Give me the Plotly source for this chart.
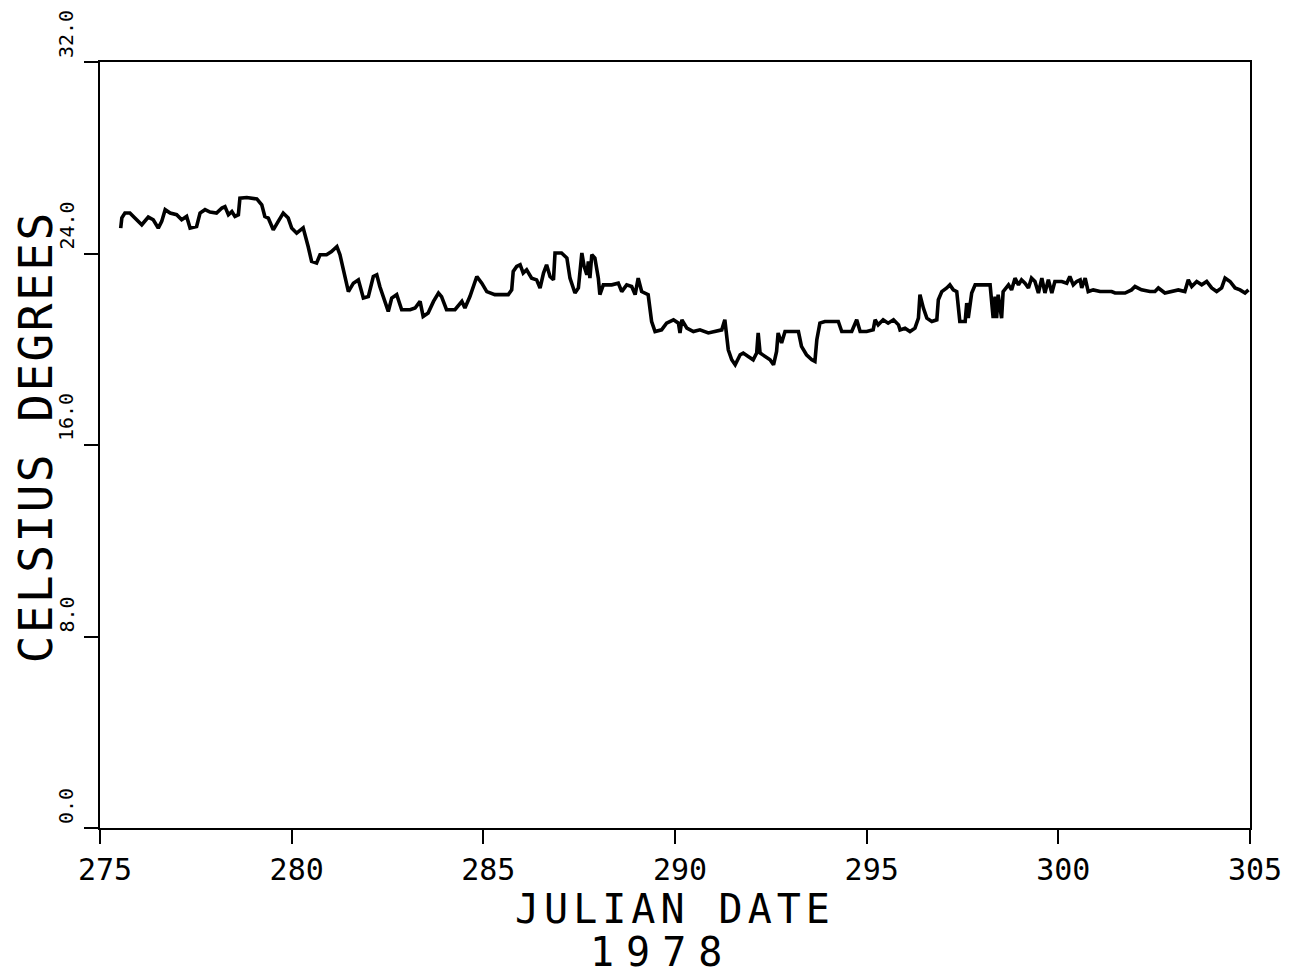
import plotly.graph_objects as go

# Julian day (1978) and water temperature
dia = [
    275.54, 275.57, 275.65, 275.78, 275.91, 276.09, 276.26, 276.39, 276.52, 276.61,
    276.70, 276.83, 277.00, 277.13, 277.26, 277.35, 277.52, 277.61, 277.74, 277.87,
    278.04, 278.18, 278.26, 278.35, 278.44, 278.52, 278.61, 278.65, 278.83, 279.09,
    279.22, 279.30, 279.39, 279.52, 279.65, 279.78, 279.91, 280.00, 280.13, 280.30,
    280.43, 280.52, 280.65, 280.74, 280.91, 281.04, 281.18, 281.26, 281.35, 281.48,
    281.61, 281.74, 281.87, 282.00, 282.13, 282.22, 282.30, 282.44, 282.52, 282.61,
    282.74, 282.87, 283.09, 283.22, 283.35, 283.43, 283.56, 283.70, 283.83, 283.91,
    284.04, 284.26, 284.44, 284.52, 284.65, 284.83, 284.96, 285.09, 285.30, 285.65,
    285.74, 285.78, 285.87, 285.96, 286.04, 286.13, 286.26, 286.39, 286.48, 286.57,
    286.65, 286.74, 286.83, 286.87, 287.04, 287.18, 287.26, 287.39, 287.48, 287.57,
    287.63, 287.70, 287.74, 287.78, 287.83, 287.91, 288.00, 288.04, 288.13, 288.35,
    288.52, 288.61, 288.74, 288.87, 288.96, 289.04, 289.13, 289.30, 289.39, 289.48,
    289.65, 289.78, 289.96, 290.09, 290.13, 290.18, 290.31, 290.48, 290.65, 290.87,
    291.09, 291.22, 291.30, 291.39, 291.48, 291.57, 291.70, 291.78, 291.91, 292.04,
    292.13, 292.17, 292.22, 292.35, 292.48, 292.57, 292.65, 292.69, 292.78, 292.87,
    293.22, 293.30, 293.43, 293.57, 293.65, 293.70, 293.78, 293.91, 294.26, 294.35,
    294.61, 294.74, 294.83, 295.00, 295.17, 295.22, 295.30, 295.43, 295.56, 295.70,
    295.83, 295.87, 296.00, 296.13, 296.26, 296.35, 296.39, 296.48, 296.57, 296.70,
    296.83, 296.87, 296.96, 297.09, 297.17, 297.26, 297.35, 297.43, 297.57, 297.61,
    297.65, 297.74, 297.83, 298.22, 298.26, 298.30, 298.35, 298.39, 298.43, 298.52,
    298.56, 298.70, 298.78, 298.87, 298.96, 299.04, 299.13, 299.22, 299.30, 299.39,
    299.48, 299.57, 299.65, 299.74, 299.83, 299.91, 300.09, 300.22, 300.30, 300.39,
    300.48, 300.57, 300.61, 300.70, 300.78, 300.91, 301.09, 301.39, 301.48, 301.74,
    301.91, 302.00, 302.17, 302.39, 302.52, 302.61, 302.78, 302.96, 303.13, 303.30,
    303.39, 303.48, 303.61, 303.74, 303.87, 304.00, 304.13, 304.26, 304.35, 304.48,
    304.61, 304.74, 304.87, 304.96,
]
temperatura = [
    25.06, 25.49, 25.69, 25.69, 25.48, 25.20, 25.52, 25.41, 25.06, 25.34,
    25.83, 25.69, 25.62, 25.41, 25.55, 25.06, 25.13, 25.69, 25.83, 25.73,
    25.69, 25.90, 25.96, 25.62, 25.75, 25.55, 25.62, 26.31, 26.34, 26.28,
    26.03, 25.55, 25.48, 24.99, 25.34, 25.69, 25.48, 25.06, 24.85, 25.07,
    24.29, 23.67, 23.60, 23.95, 23.95, 24.08, 24.29, 23.95, 23.32, 22.41,
    22.76, 22.90, 22.14, 22.20, 23.04, 23.11, 22.62, 22.00, 21.58, 22.14,
    22.28, 21.65, 21.65, 21.72, 22.00, 21.37, 21.51, 22.00, 22.35, 22.20,
    21.65, 21.65, 22.00, 21.72, 22.20, 23.04, 22.76, 22.41, 22.28, 22.28,
    22.48, 23.25, 23.46, 23.53, 23.18, 23.32, 22.97, 22.90, 22.56, 23.18,
    23.53, 23.04, 22.90, 24.02, 24.02, 23.81, 22.97, 22.35, 22.56, 24.02,
    23.46, 23.11, 23.67, 22.97, 23.95, 23.81, 22.97, 22.28, 22.69, 22.69,
    22.76, 22.41, 22.69, 22.62, 22.28, 22.97, 22.41, 22.28, 21.16, 20.74,
    20.81, 21.09, 21.23, 21.09, 20.68, 21.23, 20.88, 20.74, 20.81, 20.68,
    20.74, 20.81, 21.23, 19.98, 19.56, 19.35, 19.77, 19.84, 19.70, 19.56,
    19.84, 20.68, 19.84, 19.70, 19.56, 19.35, 19.91, 20.68, 20.26, 20.74,
    20.74, 20.12, 19.77, 19.56, 19.49, 20.40, 21.09, 21.16, 21.16, 20.74,
    20.74, 21.23, 20.74, 20.74, 20.81, 21.23, 21.02, 21.23, 21.09, 21.23,
    21.02, 20.81, 20.88, 20.74, 20.88, 21.30, 22.28, 21.72, 21.30, 21.16,
    21.23, 22.07, 22.41, 22.56, 22.69, 22.48, 22.41, 21.16, 21.16, 21.93,
    21.30, 22.35, 22.69, 22.69, 22.07, 21.30, 22.20, 21.30, 22.28, 21.30,
    22.41, 22.69, 22.48, 22.97, 22.69, 22.90, 22.76, 22.56, 22.97, 22.83,
    22.35, 22.97, 22.35, 22.90, 22.35, 22.83, 22.83, 22.76, 23.04, 22.69,
    22.83, 22.90, 22.56, 22.97, 22.41, 22.48, 22.41, 22.41, 22.35, 22.35,
    22.48, 22.62, 22.48, 22.41, 22.41, 22.56, 22.35, 22.41, 22.48, 22.41,
    22.90, 22.62, 22.83, 22.69, 22.83, 22.56, 22.41, 22.56, 22.97, 22.83,
    22.56, 22.48, 22.35, 22.48,
]

ticks_x = [275, 280, 285, 290, 295, 300, 305]
ticks_y = [0, 8, 16, 24, 32]
etiquetas_y = ["0.0", "8.0", "16.0", "24.0", "32.0"]

fuente = "DejaVu Sans Mono"

fig = go.Figure()

fig.add_trace(go.Scatter(
    x=dia,
    y=temperatura,
    mode="lines",
    line=dict(color="black", width=3.6),
    showlegend=False,
))

# Etiquetas del eje Y giradas, empiezan en la marca y suben
anotaciones = []
for v, txt in zip(ticks_y, etiquetas_y):
    anotaciones.append(dict(
        x=0, xref="paper", y=v, yref="y",
        text=txt, showarrow=False, textangle=-90,
        xanchor="center", yanchor="bottom",
        xshift=-34, yshift=2,
        font=dict(family=fuente, size=20, color="black"),
    ))

anotaciones.append(dict(
    x=0, xref="paper", y=0.51, yref="paper",
    text="<span style='letter-spacing:2.5px'>CELSIUS DEGREES</span>",
    showarrow=False, textangle=-90,
    xanchor="center", yanchor="middle", xshift=-64,
    font=dict(family=fuente, size=46, color="black"),
))
anotaciones.append(dict(
    x=0.5, xref="paper", y=0, yref="paper",
    text="<span style='letter-spacing:5px'>JULIAN DATE</span>",
    showarrow=False,
    xanchor="center", yanchor="top", yshift=-56,
    font=dict(family=fuente, size=40, color="black"),
))
anotaciones.append(dict(
    x=0.489, xref="paper", y=0, yref="paper",
    text="<span style='letter-spacing:12px'>1978</span>",
    showarrow=False,
    xanchor="center", yanchor="bottom", yshift=-149,
    font=dict(family=fuente, size=40, color="black"),
))

# la página tiene 8 px de margen en el body: se compensa aquí
fig.update_layout(
    width=1286,
    height=971,
    margin=dict(l=92, r=44, t=54, b=151),
    plot_bgcolor="white",
    paper_bgcolor="white",
    annotations=anotaciones,
    xaxis=dict(
        range=[275, 305],
        tickvals=ticks_x,
        ticks="outside", ticklen=14, tickwidth=2, tickcolor="black",
        showline=True, linecolor="black", linewidth=2, mirror=True,
        showgrid=False, zeroline=False,
        tickfont=dict(family=fuente, size=30, color="black"),
        ticklabelstandoff=0,
        ticklabelshift=5,
    ),
    yaxis=dict(
        range=[0, 32],
        tickvals=ticks_y,
        showticklabels=False,
        ticks="outside", ticklen=14, tickwidth=2, tickcolor="black",
        showline=True, linecolor="black", linewidth=2, mirror=True,
        showgrid=False, zeroline=False,
    ),
)

fig.write_html("out.html")
